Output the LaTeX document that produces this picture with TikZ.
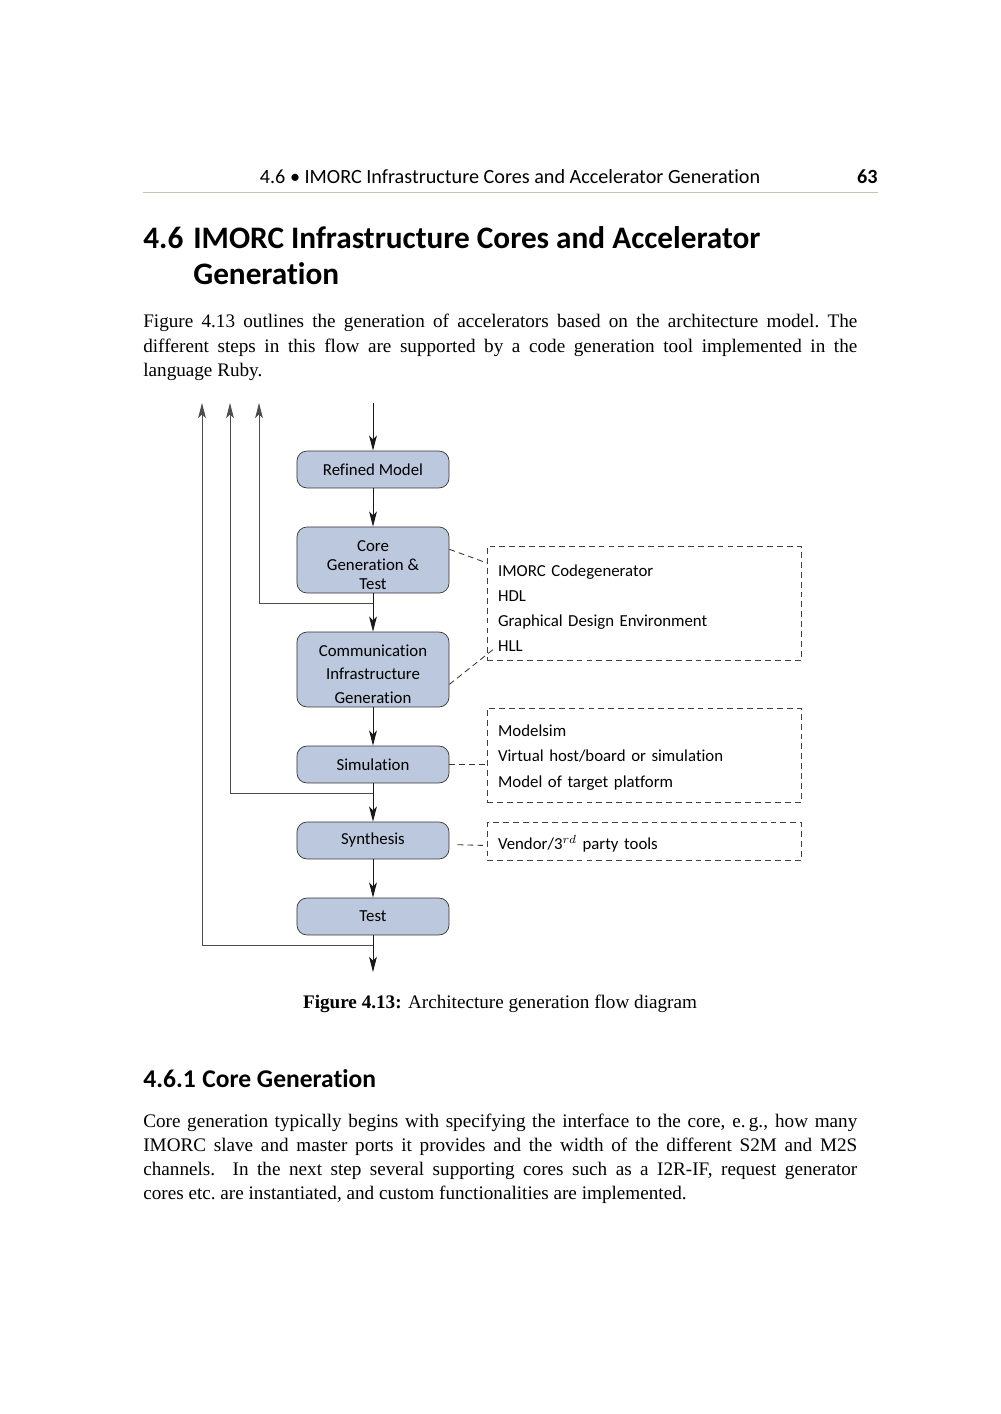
\documentclass[tikz,border=0pt]{standalone}
\usepackage{fontspec}
\setmainfont{Liberation Serif}
\newfontfamily\biofont[Ligatures=NoCommon,Contextuals=NoAlternate]{Carlito}
\usetikzlibrary{arrows.meta}
\usetikzlibrary{calc}

\definecolor{stagefill}{RGB}{188,200,221}
\definecolor{headrule}{RGB}{196,198,178}

\newcommand{\fullline}[1]{\noindent\parfillskip=0pt #1\par}
\newcommand{\toplift}[1]{\rule{0pt}{#1}}

\tikzset{
  stagebox/.style={draw=black!80, fill=stagefill, rounded corners=6pt,
    minimum width=90.5pt, align=center, inner sep=1pt,
    font=\biofont\fontsize{10}{11.3}\selectfont},
  toolbox/.style={draw=black!75, dash pattern=on 3.5pt off 2.4pt,
    anchor=north west, minimum width=186.8pt, text width=174pt,
    align=left, inner xsep=6pt, font=\biofont\fontsize{10}{14.9}\selectfont},
  flow/.style={-{Stealth[length=9pt,width=4.6pt,inset=2.2pt]}, black!90, line width=0.5pt},
  back/.style={flow, black!70},
  tie/.style={black!80, line width=0.5pt, dash pattern=on 3.5pt off 2.4pt},
  bodyline/.style={anchor=base west, inner sep=0pt, text width=424.8pt, align=justify,
    font=\fontsize{11.4}{14}\selectfont},
  lastline/.style={anchor=base west, inner sep=0pt, font=\fontsize{11.4}{14}\selectfont},
  headtext/.style={anchor=base west, inner sep=0pt, font=\biofont\bfseries\fontsize{18.6}{22}\selectfont},
  subtext/.style={anchor=base west, inner sep=0pt, font=\biofont\bfseries\fontsize{15.2}{18}\selectfont}
}

\begin{document}
\begin{tikzpicture}[x=0.595pt, y=-0.595pt]

\useasboundingbox[fill=white] (0,0) rectangle (1000,1414);

% running head
\node [anchor=base, inner sep=0pt, font=\biofont\fontsize{12}{14}\selectfont] (runhead) at (510,183)
  {4.6 • IMORC Infrastructure Cores and Accelerator Generation};
\node [anchor=base east, inner sep=0pt, font=\biofont\bfseries\fontsize{12}{14}\selectfont] (pagenum) at (878,183) {63};
\draw [headrule, line width=0.5pt] (143,192) -- (878,192);

% section heading
\node [headtext] (secnum) at (143,248) {4.6};
\node [headtext] (sectitle1) at (193,248) {IMORC Infrastructure Cores and Accelerator};
\node [headtext] (sectitle2) at (193,284) {Generation};

% first paragraph
\node [bodyline] (para1a) at (143,327) {\fullline{Figure 4.13 outlines the generation of accelerators based on the architecture model.\ The}};
\node [bodyline] (para1b) at (143,352) {\fullline{different steps in this flow are supported by a code generation tool implemented in the}};
\node [lastline] (para1c) at (143,376) {language Ruby.};

% flow stages
\node [stagebox, minimum height=22pt] (refined) at (373,469.5) {Refined Model};
\node [stagebox, minimum height=39.3pt] (coregen) at (373,560) {\toplift{12.5pt}Core\\Generation \&\\Test};
\node [stagebox, minimum height=44.6pt, font=\biofont\fontsize{10}{14}\selectfont] (comminfra) at (373,669.5)
  {\toplift{12.5pt}Communication\\Infrastructure\\Generation};
\node [stagebox, minimum height=22pt] (simul) at (373,764.5) {Simulation};
\node [stagebox, minimum height=22pt] (synth) at (373,840.5) {Synthesis};
\node [stagebox, minimum height=22pt] (test) at (373,916.5) {Test};

% tool boxes
\node [toolbox, minimum height=67.8pt] (toolsgen) at (487,546)
  {\toplift{12.5pt}IMORC Codegenerator\\HDL\\Graphical Design Environment\\HLL};
\node [toolbox, minimum height=55.9pt, font=\biofont\fontsize{10}{15.2}\selectfont] (toolssim) at (487,708)
  {\toplift{9.5pt}Modelsim\\Virtual host/board or simulation\\Model of target platform};
\node [toolbox, minimum height=22.6pt] (toolssyn) at (487,822)
  {\toplift{11.3pt}Vendor/3$^{rd}$ party tools};

% in, out and feedback points
\coordinate (in) at (373,403);
\coordinate (out) at (373,972);
\coordinate (j1) at (373,603);
\coordinate (j2) at (373,793);
\coordinate (j3) at (373,945);
\coordinate (up1) at (259,403);
\coordinate (up2) at (230,403);
\coordinate (up3) at (202,403);
\coordinate (hll) at (495,648);

\draw [flow] (in) -- (refined);
\draw [flow] (refined) -- (coregen);
\draw [flow] (coregen) -- (comminfra);
\draw [flow] (comminfra) -- (simul);
\draw [flow] (simul) -- (synth);
\draw [flow] (synth) -- (test);
\draw [flow] (test) -- (out);

\draw [back] (j1) -| (up1);
\draw [back] (j2) -| (up2);
\draw [back] (j3) -| (up3);

% dashed ties to tools
\draw [tie] (coregen.8) -- ($(toolsgen.north west)+(0,17)$);
\draw [tie] (comminfra.-11) -- (hll);
\draw [tie] (simul.east) -- (simul.east -| toolssim.west);
\draw [tie] ([xshift=4.8pt,yshift=-2.5pt]synth.east) -- ([yshift=-2.5pt]toolssyn.west);

% caption
\node [anchor=base, inner sep=0pt, font=\fontsize{11.4}{14}\selectfont] (caption) at (500,1008)
  {\textbf{Figure 4.13:} Architecture generation flow diagram};

% subsection
\node [subtext] (subnum) at (143,1087) {4.6.1};
\node [subtext] (subtitle) at (202,1087) {Core Generation};

% second paragraph
\node [bodyline] (para2a) at (143,1127) {\fullline{Core generation typically begins with specifying the interface to the core, e.\,g., how many}};
\node [bodyline] (para2b) at (143,1151) {\fullline{IMORC slave and master ports it provides and the width of the different S2M and M2S}};
\node [bodyline] (para2c) at (143,1175) {\fullline{channels.  In the next step several supporting cores such as a I2R-IF, request generator}};
\node [lastline] (para2d) at (143,1199) {cores etc.\ are instantiated, and custom functionalities are implemented.};

\end{tikzpicture}
\end{document}
